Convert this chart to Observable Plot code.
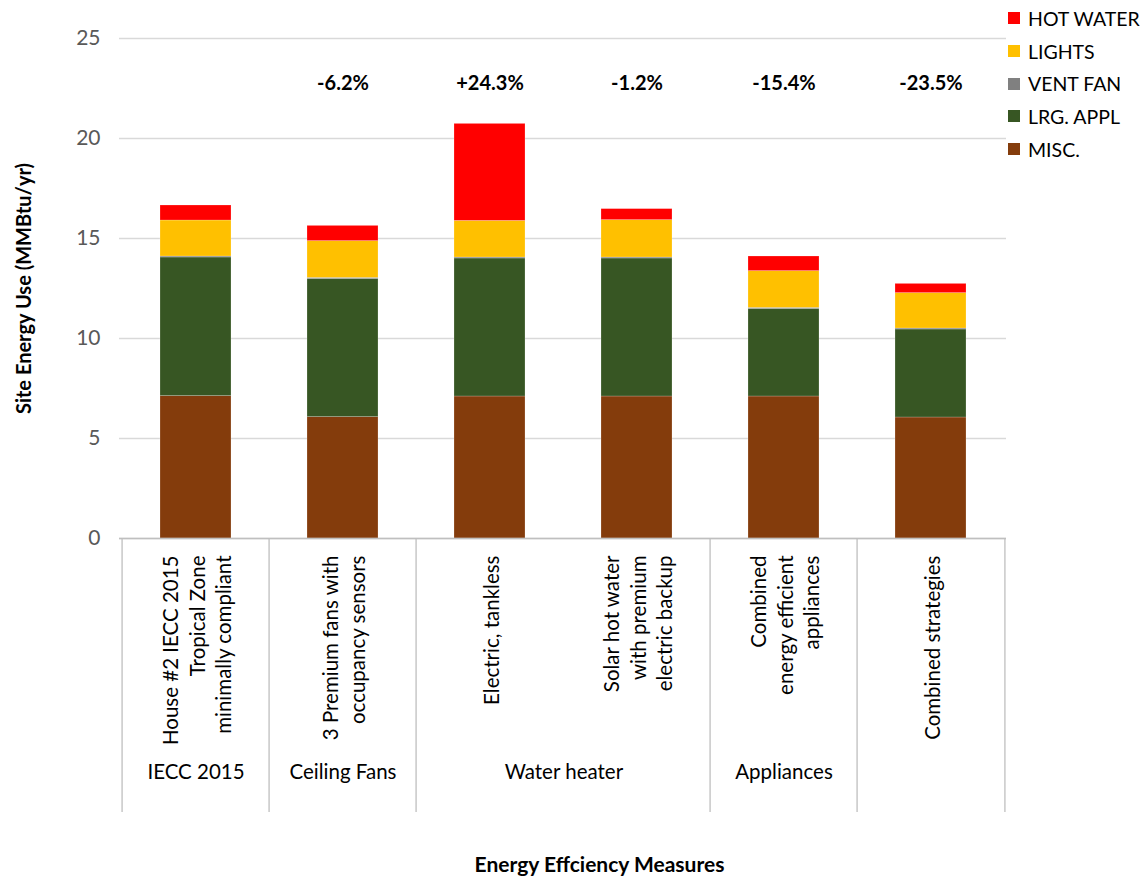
<!DOCTYPE html>
<html><head><meta charset="utf-8">
<script src="https://cdn.jsdelivr.net/npm/d3@7"></script>
<script src="https://cdn.jsdelivr.net/npm/@observablehq/plot@0.6"></script>
<style>
body{margin:0;background:#fff;font-family:Lato,"Open Sans",sans-serif}
#wrap{position:relative;width:1145px;height:877px}
#legend{position:absolute;left:1008px;top:2px;font-size:19.5px;color:#000;font-family:Lato,sans-serif}
.item{display:flex;align-items:center;height:32.7px;white-space:nowrap}
.sw{width:12px;height:12px;margin-right:8px;flex:none}
</style></head><body><div id="wrap"></div>
<script>
const categories = [
  "House #2 IECC 2015\nTropical Zone\nminimally compliant",
  "3 Premium fans with\noccupancy sensors",
  "Electric, tankless",
  "Solar hot water\nwith premium\nelectric backup",
  "Combined\nenergy efficient\nappliances",
  "Combined strategies"
];
const groups = ["IECC 2015", "Ceiling Fans", "Water heater", "Water heater", "Appliances", ""];
const series = ["MISC.", "LRG. APPL", "VENT FAN", "LIGHTS", "HOT WATER"];
const misc     = [7.12, 6.07, 7.10, 7.10, 7.10, 6.05];
const lrgAppl  = [6.93, 6.91, 6.90, 6.90, 4.38, 4.40];
const ventFan  = [0.05, 0.05, 0.05, 0.05, 0.05, 0.05];
const lights   = [1.80, 1.84, 1.83, 1.87, 1.84, 1.77];
const hotWater = [0.75, 0.76, 4.85, 0.55, 0.73, 0.46];
const pctChange = ["", "-6.2%", "+24.3%", "-1.2%", "-15.4%", "-23.5%"];
const yTicks = [0, 5, 10, 15, 20, 25];
const colors = ["#843C0C", "#375623", "#808080", "#FFC000", "#FF0000"];
const yTitle = "Site Energy Use (MMBtu/yr)";
const xTitle = "Energy Effciency Measures";

const seriesValues = [misc, lrgAppl, ventFan, lights, hotWater];
const rows = [];
categories.forEach((c, i) => series.forEach((s, j) => rows.push({cat: c, series: s, value: seriesValues[j][i]})));

const W = 1145, H = 877, ML = 119, MR = 139, MT = 38, MB = 339;
const step = (W - ML - MR) / categories.length;
const FS = 20;

// group runs
const runs = [];
groups.forEach((g, i) => {
  if (i > 0 && g === groups[i - 1]) runs[runs.length - 1].span++;
  else runs.push({label: g, cat: categories[i], span: 1});
});
const leftBorders = runs.map(r => r.cat);
const rightBorders = [categories[categories.length - 1]];
const singleRuns = runs.filter(r => r.label && r.span === 1);
const doubleRuns = runs.filter(r => r.label && r.span === 2);

const pctData = categories.map((c, i) => ({cat: c, label: pctChange[i]})).filter(d => d.label);

const groupText = (data, dx) => Plot.text(data, {x: "cat", text: "label", frameAnchor: "bottom", dy: 234, dx, fontSize: 20.5, fill: "#000", lineAnchor: "middle"});

const chart = Plot.plot({
  width: W, height: H,
  marginLeft: ML, marginRight: MR, marginTop: MT, marginBottom: MB,
  style: {fontFamily: "Lato, sans-serif", fontSize: FS + "px", color: "#000", background: "#fff"},
  x: {domain: categories, paddingInner: 0.52, paddingOuter: 0.26, axis: null},
  y: {domain: [0, 25], axis: null},
  color: {domain: series, range: colors},
  marks: [
    Plot.gridY(yTicks, {stroke: "#d9d9d9", strokeOpacity: 1, strokeWidth: 1.3}),
    Plot.axisY(yTicks, {tickSize: 0, tickPadding: 19, fontSize: FS + 1, fill: "#595959", label: null, tickFormat: d => String(d)}),
    Plot.barY(rows, Plot.stackY({x: "cat", y: "value", fill: "series", stroke: "#ffffff", strokeOpacity: 0.35, strokeWidth: 0.6})),
    Plot.ruleY([0], {stroke: "#bfbfbf", strokeWidth: 1.3}),
    Plot.axisX(leftBorders, {anchor: "bottom", tickSize: 274, tickPadding: 0, dx: -step / 2, stroke: "#bfbfbf", strokeWidth: 1.3, tickFormat: () => "", label: null}),
    Plot.axisX(rightBorders, {anchor: "bottom", tickSize: 274, tickPadding: 0, dx: step / 2, stroke: "#bfbfbf", strokeWidth: 1.3, tickFormat: () => "", label: null}),
    Plot.text(categories, {x: d => d, text: d => d, frameAnchor: "bottom", dy: 17, rotate: -90, textAnchor: "end", lineAnchor: "middle", lineHeight: 26.6 / 20.5, fontSize: 20.5, fill: "#000"}),
    groupText(singleRuns, 0),
    groupText(doubleRuns, step / 2),
    Plot.text(pctData, {x: "cat", text: "label", frameAnchor: "top", dy: 45, fontSize: FS, fontWeight: "bold", fill: "#000", lineAnchor: "middle"}),
    Plot.text([yTitle], {frameAnchor: "left", rotate: -90, dx: -95, textAnchor: "middle", fontSize: FS, fontWeight: "bold", fill: "#000", lineAnchor: "middle"}),
    Plot.text([xTitle], {frameAnchor: "bottom", dy: 327, dx: 36.5, fontSize: 21, fontWeight: "bold", fill: "#000", lineAnchor: "middle"})
  ]
});

const wrap = document.getElementById("wrap");
wrap.appendChild(chart);

const legend = document.createElement("div");
legend.id = "legend";
for (let j = series.length - 1; j >= 0; j--) {
  const it = document.createElement("div");
  it.className = "item";
  it.innerHTML = `<span class="sw" style="background:${colors[j]}"></span><span>${series[j]}</span>`;
  legend.appendChild(it);
}
wrap.appendChild(legend);
</script></body></html>
